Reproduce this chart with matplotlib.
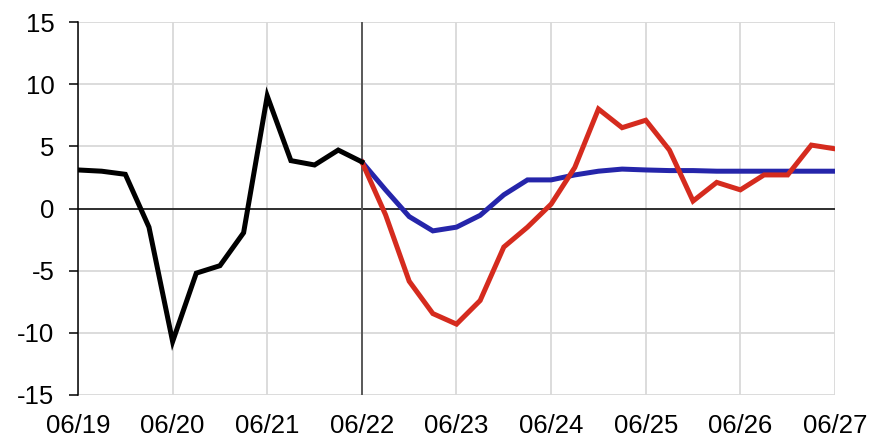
import matplotlib
matplotlib.use("Agg")
import matplotlib.pyplot as plt
import numpy as np

plt.rcParams['font.family'] = ['Liberation Sans', 'DejaVu Sans']
plt.rcParams['axes.unicode_minus'] = False

tick_labels = ["06/19", "06/20", "06/21", "06/22", "06/23", "06/24", "06/25", "06/26", "06/27"]

# quarterly values, Q2 2019 .. Q2 2022
history = [3.1, 3.0, 2.75, -1.5, -10.7, -5.2, -4.6, -1.95, 9.05, 3.85, 3.5, 4.7, 3.75]
# Q2 2022 .. Q2 2027
forecast_red = [3.75, -0.5, -5.85, -8.45, -9.3, -7.4, -3.1, -1.5, 0.35, 3.3, 8.0, 6.5,
                7.1, 4.7, 0.6, 2.1, 1.5, 2.7, 2.7, 5.1, 4.8]
forecast_blue = [3.75, 1.5, -0.65, -1.8, -1.5, -0.55, 1.1, 2.3, 2.3, 2.7, 3.0, 3.17,
                 3.1, 3.05, 3.05, 3.0, 3.0, 3.0, 3.0, 3.0, 3.0]

fig = plt.figure(figsize=(8.7, 4.38), dpi=100)
ax = fig.add_axes([78/870, 1-395/438, (835-78)/870, (395-22)/438])

x_hist = np.arange(len(history))
start = len(history) - 1
x_fc = np.arange(start, start + len(forecast_red))

ax.set_xlim(0, 32)
ax.set_ylim(-15, 15)
ax.set_yticks(np.arange(-15, 16, 5))
ax.set_xticks(np.arange(0, 33, 4))
ax.set_xticklabels(tick_labels)

ax.grid(True, color='#d9d9d9', linewidth=1.3, zorder=0)
ax.axhline(0, color='black', linewidth=1.1, zorder=2)
ax.axvline(12, color='#595959', linewidth=1.4, zorder=2)

lw = 3.6
ax.plot(x_fc, forecast_blue, color='#2525AA', linewidth=lw, solid_joinstyle='miter', zorder=3)
ax.plot(x_fc, forecast_red, color='#D52B1E', linewidth=lw, solid_joinstyle='miter', zorder=4)
ax.plot(x_hist, history, color='black', linewidth=lw, solid_joinstyle='miter', zorder=5)

for s in ['top', 'right', 'bottom']:
    ax.spines[s].set_visible(False)
ax.spines['left'].set_color('black')
ax.spines['left'].set_linewidth(1.1)
ax.tick_params(axis='y', length=6.5, width=1.1, direction='out', labelsize=18.5, pad=10.5)
ax.tick_params(axis='x', length=0, labelsize=18.5, pad=14)

fig.savefig("out.png", dpi=100)
